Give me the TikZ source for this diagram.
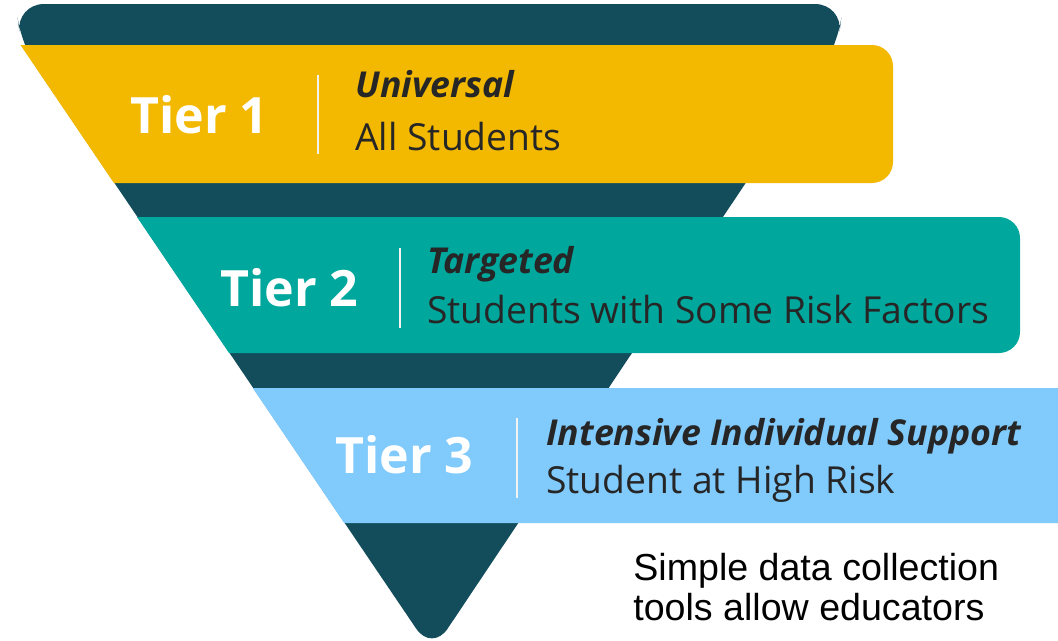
\documentclass[tikz,border=0pt]{standalone}
\usepackage{fontspec}
\setmainfont{Open Sans}
\newfontfamily\notefont{Liberation Sans}
\usepackage{xcolor}

\definecolor{funnel}{RGB}{19,77,92}
\definecolor{tierA}{RGB}{243,185,0}
\definecolor{tierB}{RGB}{0,167,157}
\definecolor{tierC}{RGB}{128,202,252}
\definecolor{ink}{RGB}{38,38,38}

\tikzset{
    tiername/.style={anchor=base west, inner sep=0pt, text=white,
        font=\fontsize{28.5}{32}\selectfont\bfseries},
    tierhead/.style={anchor=base west, inner sep=0pt, text=ink,
        font=\fontsize{20.3}{24}\selectfont\bfseries\itshape},
    tiersub/.style={anchor=base west, inner sep=0pt, text=ink,
        font=\fontsize{21.2}{25}\selectfont},
    tierbar/.style={white!90!gray, line width=1.3pt},
    notetext/.style={anchor=base west, inner sep=0pt, text=black,
        font=\notefont\fontsize{21.4}{25}\selectfont}
}

\begin{document}
\begin{tikzpicture}[x=0.02cm, y=-0.02cm]
            \useasboundingbox (0,0) rectangle (1058,640);
            \coordinate (tip) at (432,652);

            % the funnel
            \fill[funnel, rounded corners=16] (21,45) -- (16,4) -- (843,4) -- (838,45) -- (tip) -- cycle;

            % the three bands, cut along the left side of the funnel
            \begin{scope}
                \clip (-10,0) -- (1100,0) -- (1100,660) -- (437,660) -- cycle;
                \fill[tierA, rounded corners=12] (0,45) rectangle (893,183);
                \fill[tierB, rounded corners=12] (0,217) rectangle (1020,353);
                \fill[tierC, rounded corners=12] (0,388) rectangle (1080,523);
            \end{scope}

            % tier 1
            \node[tiername] (tier1) at (130,133) {Tier 1};
            \draw[tierbar] (318,75) -- (318,154);
            \node[tierhead] (universal) at (355,97) {Universal};
            \node[tiersub] (allstudents) at (355,150) {All Students};

            % tier 2
            \node[tiername] (tier2) at (220,306) {Tier 2};
            \draw[tierbar] (400,248) -- (400,328);
            \node[tierhead] (targeted) at (427,273) {Targeted};
            \node[tiersub] (somerisk) at (427,323) {Students with Some Risk Factors};

            % tier 3
            \node[tiername] (tier3) at (335,473) {Tier 3};
            \draw[tierbar] (517,418) -- (517,498);
            \node[tierhead] (intensive) at (546,445) {Intensive Individual Support};
            \node[tiersub] (highrisk) at (546,493) {Student at High Risk};

            \node[notetext] (note1) at (633,580) {Simple data collection};
            \node[notetext] (note2) at (633,620) {tools allow educators};
        \end{tikzpicture}
\end{document}
